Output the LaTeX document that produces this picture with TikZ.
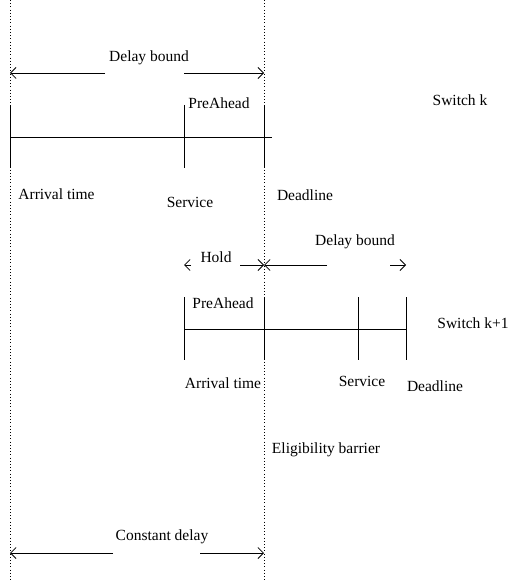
\documentclass[tikz,border=0pt]{standalone}
\usepackage{fontspec}
\setmainfont{Liberation Serif}
\usetikzlibrary{arrows.meta}
\begin{document}
\begin{tikzpicture}[x=1pt,y=-1pt,
  lbl/.style={font=\fontsize{15.5}{18}\selectfont, inner sep=0pt},
  tl/.style={line width=0.75pt},
  barrier/.style={line width=0.9pt, dash pattern=on 1pt off 2.2pt},
  dim/.style={line width=0.75pt, -{Straight Barb[length=5.5pt,width=11pt]}}]
\useasboundingbox (0,0) rectangle (510,580);
% barriers
\coordinate (b1t) at (10,0);  \coordinate (b1b) at (10,580);
\coordinate (b2t) at (264,0); \coordinate (b2b) at (264,580);
\draw[barrier] (b1t) -- (b1b);
\draw[barrier] (b2t) -- (b2b);
% ---- Switch k ----
\node[lbl] (db1) at (149,58) {Delay bound};
\coordinate (db1l) at (10,73);  \coordinate (db1a) at (105,73);
\coordinate (db1b) at (184,73); \coordinate (db1r) at (264,73);
\draw[dim] (db1a) -- (db1l);
\draw[dim] (db1b) -- (db1r);
\coordinate (k0) at (10,137); \coordinate (k1) at (272,137);
\draw[tl] (k0) -- (k1);
\coordinate (ka1) at (10,105);  \coordinate (ka2) at (10,168);
\coordinate (ks1) at (184,105); \coordinate (ks2) at (184,168);
\coordinate (kd1) at (264,105); \coordinate (kd2) at (264,168);
\draw[tl] (ka1) -- (ka2);
\draw[tl] (ks1) -- (ks2);
\draw[tl] (kd1) -- (kd2);
\node[lbl] (pa1) at (219,103) {PreAhead};
\node[lbl] (sw1) at (460,100) {Switch k};
\node[lbl] (at1) at (56.5,194) {Arrival time};
\node[lbl] (sv1) at (190,202) {Service};
\node[lbl] (dl1) at (305,195) {Deadline};
% ---- Switch k+1 ----
\node[lbl] (hold) at (216,257) {Hold};
\node[lbl] (db2) at (355,242) {Delay bound};
\coordinate (hl) at (184,265); \coordinate (hla) at (191,265);
\coordinate (hrb) at (240,265); \coordinate (hr) at (264,265);
\coordinate (dl) at (264,265); \coordinate (dla) at (327,265);
\coordinate (drb) at (390,265); \coordinate (dr) at (406,265);
\draw[dim] (hla) -- (hl);
\draw[dim] (hrb) -- (hr);
\draw[dim] (dla) -- (dl);
\draw[dim] (drb) -- (dr);
\coordinate (m0) at (184,329); \coordinate (m1) at (406,329);
\draw[tl] (m0) -- (m1);
\foreach \x/\n in {184/a,264/b,358/c,406/d}{
  \coordinate (t\n1) at (\x,297); \coordinate (t\n2) at (\x,360);
  \draw[tl] (t\n1) -- (t\n2);
}
\node[lbl] (pa2) at (223,303) {PreAhead};
\node[lbl] (sw2) at (473,323) {Switch k+1};
\node[lbl] (at2) at (223,383) {Arrival time};
\node[lbl] (sv2) at (362,381) {Service};
\node[lbl] (dl2) at (435,386) {Deadline};
\node[lbl] (eb) at (326,450) {Eligibility barrier};
% ---- Constant delay ----
\node[lbl] (cd) at (162,537) {Constant delay};
\coordinate (cdl) at (10,553);  \coordinate (cda) at (113,553);
\coordinate (cdb) at (200,553); \coordinate (cdr) at (264,553);
\draw[dim] (cda) -- (cdl);
\draw[dim] (cdb) -- (cdr);
\end{tikzpicture}
\end{document}
